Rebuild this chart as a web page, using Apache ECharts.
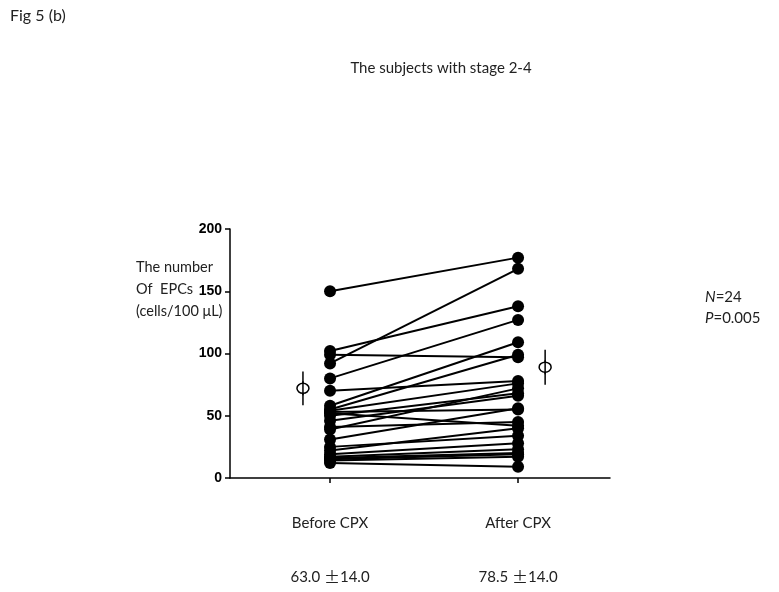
<!DOCTYPE html>
<html>
<head>
<meta charset="utf-8">
<script src="https://cdn.jsdelivr.net/npm/echarts@6/dist/echarts.min.js"></script>
<style>html,body{margin:0;padding:0;background:#fff}#chart{width:779px;height:592px}</style>
</head>
<body>
<div id="chart"></div>
<script>
  // 每个受试者：运动前 / 运动后
  var groups = ['Before CPX', 'After CPX'];
  var beforeList = [150, 102, 99, 92, 80, 70, 58, 55, 54, 53, 52, 50, 46, 41, 39, 31, 25, 22, 19, 17, 16, 15, 14, 12];
  var afterList = [177, 138, 97, 168, 127, 78, 109, 99, 76, 55, 42, 68, 66, 45, 72, 56, 34, 40, 28, 23, 20, 19, 17, 9];
  // 均值与误差（图上位置）
  var meanList = [72, 89];
  var errList = [13.5, 14];
  var statMean = ['63.0', '78.5'];
  var statSd = ['14.0', '14.0'];
  var yTicks = [0, 50, 100, 150, 200];

  var myChart = echarts.init(document.getElementById('chart'));

  var series = beforeList.map(function (b, i) {
    return {
      type: 'line',
      data: [[0, b], [1, afterList[i]]],
      symbol: 'circle',
      symbolSize: 12,
      itemStyle: { color: '#000' },
      lineStyle: { color: '#000', width: 2 },
      silent: true,
      z: 3
    };
  });

  series.push({
    type: 'custom',
    data: [[-0.144, meanList[0], errList[0]], [1.144, meanList[1], errList[1]]],
    renderItem: function (params, api) {
      var x = api.value(0), m = api.value(1), e = api.value(2);
      var top = api.coord([x, m + e]);
      var bot = api.coord([x, m - e]);
      var c = api.coord([x, m]);
      return {
        type: 'group',
        children: [
          { type: 'line', shape: { x1: top[0], y1: top[1], x2: bot[0], y2: bot[1] }, style: { stroke: '#000', lineWidth: 1.5 } },
          { type: 'ellipse', shape: { cx: c[0], cy: c[1], rx: 6, ry: 5 }, style: { fill: '#fff', stroke: '#000', lineWidth: 1.5 } },
          { type: 'line', shape: { x1: c[0], y1: c[1] - 7, x2: c[0], y2: c[1] + 7 }, style: { stroke: '#000', lineWidth: 1.5 } }
        ]
      };
    },
    z: 4
  });

  var option = {
    backgroundColor: '#fff',
    animation: false,
    textStyle: { fontFamily: 'Lato' },
    grid: { left: 230, right: 169, top: 229, bottom: 114, outerBoundsMode: 'none', containLabel: false },
    xAxis: {
      type: 'value',
      min: -0.532,
      max: 1.489,
      splitLine: { show: false },
      axisLine: { onZero: false, lineStyle: { color: '#000', width: 1.5 } },
      axisTick: { customValues: [0, 1], length: 5, inside: false, lineStyle: { color: '#000', width: 1.5 } },
      axisLabel: {
        customValues: [0, 1],
        margin: 18,
        color: '#222',
        fontSize: 15,
        fontFamily: 'Lato',
        lineHeight: 54,
        formatter: function (v) {
          var i = Math.round(v);
          return groups[i] + '\n' + statMean[i] + ' {pm|\u00b1}' + statSd[i];
        },
        rich: {
          pm: { fontFamily: 'Noto Sans CJK JP', fontSize: 16, color: '#222', lineHeight: 54 }
        }
      }
    },
    yAxis: {
      type: 'value',
      min: 0,
      max: 200,
      interval: 50,
      splitLine: { show: false },
      axisLine: { show: true, onZero: false, lineStyle: { color: '#000', width: 1.5 } },
      axisTick: { show: true, length: 5, lineStyle: { color: '#000', width: 1.5 } },
      axisLabel: {
        color: '#000',
        fontSize: 14,
        fontWeight: 'bold',
        fontFamily: 'Liberation Sans',
        margin: 8,
        customValues: yTicks
      }
    },
    graphic: [
      { type: 'text', left: 10, top: 8, style: { text: 'Fig 5 (b)', font: '16px Lato', fill: '#222' } },
      { type: 'text', x: 441, y: 68, style: { text: 'The subjects with stage 2-4', font: '15px Lato', fill: '#222', align: 'center', verticalAlign: 'middle' } },
      { type: 'text', x: 136, y: 256, style: { text: 'The number\nOf  EPCs\n(cells/100 \u03bcL)', font: '14.5px Lato', fill: '#222', lineHeight: 22 } },
      { type: 'text', x: 705, y: 287, style: {
        text: '{i|N}=24\n{i|P}=0.005', font: '15px Lato', fill: '#222', lineHeight: 21,
        rich: { i: { fontStyle: 'italic', fontFamily: 'Lato', fontSize: 15, fill: '#222' } }
      } }
    ],
    series: series
  };

  myChart.setOption(option);
</script>
</body>
</html>
